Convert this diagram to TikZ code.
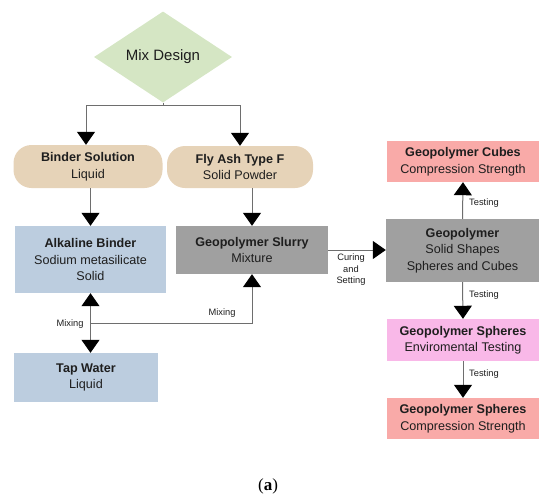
\documentclass[tikz,border=0pt]{standalone}
\usepackage{fontspec}
\setmainfont{Liberation Sans}
\newfontfamily\capfont{Liberation Serif}
\usetikzlibrary{shapes.geometric,arrows.meta}
\definecolor{cgreen}{HTML}{D5E6C4}
\definecolor{cbeige}{HTML}{E6D3B8}
\definecolor{cblue}{HTML}{BCCDDF}
\definecolor{cgray}{HTML}{A0A0A0}
\definecolor{cred}{HTML}{F9AAA8}
\definecolor{cpink}{HTML}{F9B8E8}
\definecolor{cline}{HTML}{6E6E6E}
\definecolor{ctext}{HTML}{1E1E1E}
\begin{document}
\begin{tikzpicture}[x=1pt,y=-1pt,
  box/.style={rectangle,inner sep=0pt,align=center,text=ctext,
    font=\fontsize{12.6}{16.5}\selectfont},
  pill/.style={box,rounded corners=18pt},
  lbl/.style={inner sep=0pt,align=center,text=ctext,
    font=\fontsize{9.3}{11.5}\selectfont},
  conn/.style={draw=cline,line width=1pt,
    -{Triangle[width=18pt,length=13pt,color=black]}},
  plain/.style={draw=cline,line width=1pt}]
\useasboundingbox (0,0) rectangle (550,499);

\node[diamond,fill=cgreen,inner sep=0pt,minimum width=138pt,minimum height=91pt,
  text=ctext,font=\fontsize{15}{18}\selectfont] (mix) at (163,57) {Mix Design};

\node[pill,fill=cbeige,minimum width=149pt,minimum height=43pt] (binder) at (88,166.5)
  {\textbf{Binder Solution}\\Liquid};
\node[pill,fill=cbeige,minimum width=146pt,minimum height=42pt] (fly) at (240,167)
  {\textbf{Fly Ash Type F}\\Solid Powder};

\node[box,fill=cblue,minimum width=151pt,minimum height=67pt] (alk) at (90.5,259.5)
  {\textbf{Alkaline Binder}\\Sodium metasilicate\\Solid};
\node[box,fill=cgray,minimum width=152pt,minimum height=48pt] (slurry) at (252,250)
  {\textbf{Geopolymer Slurry}\\Mixture};
\node[box,fill=cblue,minimum width=144pt,minimum height=49pt] (tap) at (86,377.5)
  {\textbf{Tap Water}\\Liquid};

\node[box,fill=cgray,minimum width=153pt,minimum height=63pt] (geo) at (462.5,250.5)
  {\textbf{Geopolymer}\\Solid Shapes\\Spheres and Cubes};
\node[box,fill=cred,minimum width=152pt,minimum height=41pt] (cubes) at (463,161.5)
  {\textbf{Geopolymer Cubes}\\Compression Strength};
\node[box,fill=cpink,minimum width=152pt,minimum height=42pt] (sph1) at (463,340)
  {\textbf{Geopolymer Spheres}\\Enviromental Testing};
\node[box,fill=cred,minimum width=152pt,minimum height=41pt] (sph2) at (463,418.5)
  {\textbf{Geopolymer Spheres}\\Compression Strength};

% connectors from Mix Design
\coordinate (split) at (163,105);
\draw[plain] (mix.south) -- (split);
\draw[conn] (split) -| ([xshift=-2pt]binder.north);
\draw[conn] (split) -| (fly.north);

\draw[conn] (binder.south -| alk.north) -- (alk.north);
\draw[conn] (fly.south -| slurry.north) -- (slurry.north);

% mixing
\coordinate (m) at (90.5,323);
\draw[conn] (m) -- (alk.south);
\draw[conn] (m) -- (m |- tap.north);
\draw[conn] (m) -| (slurry.south);
\node[lbl] (mixl) at (70,324) {Mixing};
\node[lbl] (mixr) at (222,313) {Mixing};

% curing
\draw[conn] (slurry.east) -- (slurry.east -| geo.west);
\node[lbl] (cure) at (351,270) {Curing\\and\\Setting};

% testing
\draw[conn] (geo.north) -- (cubes.south);
\draw[conn] (geo.south) -- (sph1.north);
\draw[conn] (sph1.south) -- (sph2.north);
\node[lbl,anchor=west] (t1) at (469,203) {Testing};
\node[lbl,anchor=west] (t2) at (469,295) {Testing};
\node[lbl,anchor=west] (t3) at (469,374) {Testing};

\node[inner sep=0pt,font=\capfont\fontsize{17}{20}\selectfont] (cap) at (268,486) {(\textbf{a})};
\end{tikzpicture}
\end{document}
